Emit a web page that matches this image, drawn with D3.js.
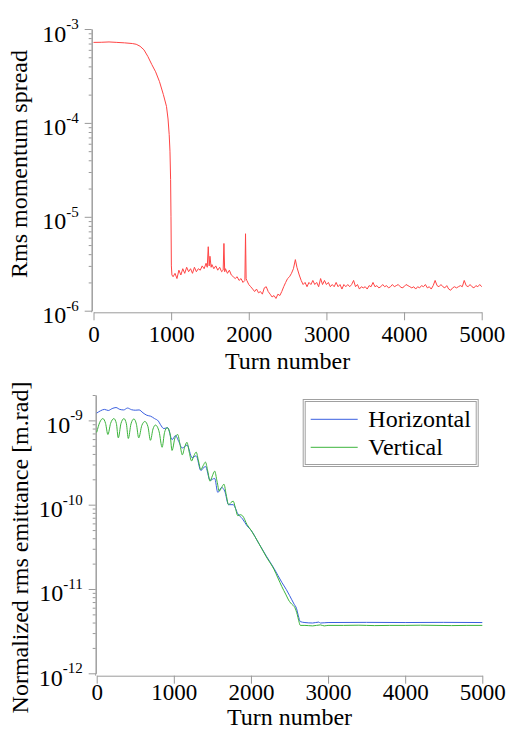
<!DOCTYPE html>
<html>
<head>
<meta charset="utf-8">
<script src="https://cdn.jsdelivr.net/npm/d3@7"></script>
<style>
  body { margin: 0; background: #fff; }
  svg { display: block; }
  text { font-family: "Liberation Serif", "Times New Roman", serif; fill: #000; }
</style>
</head>
<body>
<div id="chart"></div>
<script>
// turn numbers shared tick labels
var turnTicks = [0, 1000, 2000, 3000, 4000, 5000];

// top panel: rms momentum spread, values in units of 1e-6
var spreadTurns = [0, 100, 200, 300, 400, 500, 550, 600, 650, 700, 750, 800, 850, 900, 940, 960, 975, 985, 993, 998, 1003,
  1010, 1025, 1050, 1075, 1100, 1125, 1150, 1175, 1200, 1225, 1250, 1275, 1300, 1325, 1350, 1375, 1400, 1425, 1450, 1465,
  1478, 1490, 1500, 1515, 1525, 1550, 1575, 1600, 1625, 1650, 1670, 1680, 1690, 1700, 1725, 1750, 1775, 1800, 1825, 1850,
  1875, 1900, 1925, 1950, 1958, 1966, 1975, 2000, 2025, 2050, 2075, 2100, 2125, 2150, 2175, 2200, 2225, 2250, 2275, 2300,
  2325, 2350, 2375, 2400, 2425, 2450, 2475, 2500, 2525, 2550, 2575, 2600, 2620, 2650, 2675, 2700, 2725, 2750, 2775, 2800,
  2825, 2850, 2875, 2900, 2925, 2950, 2975, 3000, 3025, 3050, 3075, 3100, 3125, 3150, 3175, 3200, 3225, 3250, 3275, 3300,
  3325, 3350, 3375, 3400, 3425, 3450, 3475, 3500, 3525, 3550, 3575, 3600, 3625, 3650, 3675, 3700, 3725, 3750, 3775, 3800,
  3825, 3850, 3875, 3900, 3925, 3950, 3975, 4000, 4025, 4050, 4075, 4100, 4125, 4150, 4175, 4200, 4225, 4250, 4275, 4300,
  4325, 4350, 4375, 4400, 4425, 4450, 4475, 4500, 4525, 4550, 4575, 4600, 4625, 4650, 4675, 4700, 4725, 4750, 4775, 4800,
  4825, 4850, 4875, 4900, 4925, 4950, 4975, 5000];
var spreadValues = [720, 722, 728, 720, 712, 700, 688, 655, 600, 510, 420, 350, 275, 200, 150, 110, 75, 50, 25, 10, 3,
  2.4, 2.3, 2.5, 2.2, 2.7, 2.4, 2.8, 2.5, 2.9, 2.6, 2.8, 2.5, 2.9, 2.6, 2.8, 2.7, 3.0, 2.8, 3.2, 2.9,
  4.8, 3.0, 3.8, 2.9, 3.1, 2.8, 3.0, 2.7, 2.9, 2.6, 2.7, 5.2, 2.6, 2.8, 2.5, 2.7, 2.4, 2.3, 2.2, 2.3,
  2.1, 2.2, 2.0, 2.1, 6.6, 2.2, 2.1, 1.9, 1.8, 1.7, 1.6, 1.7, 1.55, 1.6, 1.5, 1.75, 1.8, 1.6, 1.5, 1.4,
  1.45, 1.35, 1.5, 1.45, 1.6, 1.8, 2.0, 2.2, 2.3, 2.5, 2.8, 3.5, 2.9, 2.4, 2.1, 1.9, 2.0, 1.8, 2.0, 1.9,
  2.1, 1.9, 2.0, 1.8, 2.2, 1.9, 2.1, 1.9, 2.0, 1.8, 1.9, 1.8, 2.0, 1.8, 1.9, 1.7, 1.9, 1.8, 1.9, 1.8,
  1.9, 2.1, 1.8, 1.9, 1.7, 1.8, 1.75, 1.8, 1.7, 1.85, 1.8, 2.0, 1.8, 1.85, 1.75, 1.8, 1.9, 1.8, 1.85, 1.75,
  1.8, 1.9, 1.8, 1.85, 1.9, 1.8, 1.75, 1.8, 1.9, 1.85, 1.8, 1.75, 1.8, 1.7, 1.8, 1.75, 1.85, 1.8, 1.9, 1.75,
  1.8, 1.7, 1.85, 2.1, 1.85, 1.8, 1.9, 1.8, 1.75, 1.85, 1.7, 1.65, 1.75, 1.8, 1.75, 1.8, 1.85, 1.8, 2.1, 1.85,
  1.8, 1.9, 1.8, 1.75, 1.85, 1.8, 1.9, 1.8];
var spreadUnit = 1e-6;
var spreadDecades = [1e-6, 1e-5, 1e-4, 1e-3];
var spreadExps = ["-6", "-5", "-4", "-3"];

// bottom panel: normalized emittance, values in units of 1e-12 m.rad
var horTurns = [0, 50, 100, 150, 200, 250, 300, 350, 400, 450, 500, 550, 600, 650, 700, 750, 800, 827, 870, 920, 978,
  1021, 1065, 1108, 1172, 1237, 1290, 1350, 1410, 1470, 1530, 1570, 1620, 1660, 1710, 1770, 1830, 1890, 1950, 2000,
  2100, 2200, 2300, 2400, 2460, 2500, 2560, 2590, 2615, 2640, 2700, 2800, 2880, 2900, 3000, 3500, 4000, 4500, 5000];
var horValues = [1220, 1300, 1350, 1310, 1380, 1420, 1350, 1330, 1400, 1340, 1320, 1330, 1230, 1150, 1120, 1050, 980, 890, 800, 820, 590,
  660, 560, 470, 510, 360, 380, 255, 285, 195, 205, 140, 160, 145, 100, 100, 78, 68, 56, 50,
  35, 24.5, 17.5, 12, 9.8, 8.4, 6.6, 5.9, 4.8, 4.1, 4.0, 3.95, 4.05, 3.95, 4.0, 4.02, 4.0, 4.02, 4.0];
var verTurns = [0, 40, 80, 115, 145, 180, 223, 255, 280, 315, 353, 385, 410, 445, 482, 515, 545, 585, 625, 665, 697,
  730, 762, 810, 848, 880, 913, 950, 977, 1015, 1050, 1080, 1110, 1140, 1170, 1200, 1230, 1260, 1290, 1320, 1350,
  1380, 1410, 1440, 1470, 1500, 1530, 1560, 1590, 1620, 1650, 1680, 1710, 1740, 1770, 1800, 1830, 1860, 1890, 1950,
  2000, 2100, 2200, 2300, 2350, 2400, 2450, 2500, 2530, 2570, 2600, 2620, 2640, 2700, 2800, 2900, 2950, 3000, 3200,
  3400, 3600, 3800, 4000, 4200, 4400, 4600, 4800, 5000];
var verValues = [720, 950, 1050, 920, 680, 920, 1050, 920, 620, 920, 1050, 910, 610, 910, 1040, 900, 620, 870, 970, 840, 580,
  790, 880, 730, 480, 720, 820, 700, 440, 620, 680, 520, 390, 480, 550, 420, 330, 380, 420, 330, 260,
  290, 320, 250, 190, 220, 250, 190, 145, 160, 175, 130, 100, 106, 110, 90, 74, 76, 74, 58,
  50, 35, 24, 17, 13.5, 10.7, 8.7, 7.1, 6.6, 6.0, 5.0, 4.2, 3.7, 3.7, 3.65, 3.75, 3.65, 3.7, 3.7,
  3.72, 3.68, 3.7, 3.7, 3.72, 3.7, 3.68, 3.7, 3.7];
var emitUnit = 1e-12;
var emitDecades = [1e-12, 1e-11, 1e-10, 1e-9];
var emitExps = ["-12", "-11", "-10", "-9"];
var legendNames = ["Horizontal", "Vertical"];

var W = 509, H = 730;
var axisColor = "#9a9a9a";
var svg = d3.select("#chart").append("svg").attr("width", W).attr("height", H);

function minorTicks(lo, hi) {
  var out = [];
  for (var d = lo; d < hi * 1.0001; d *= 10) {
    for (var k = 2; k <= 9; k++) {
      if (d * k <= hi * 1.0001) out.push(d * k);
    }
  }
  return out;
}

function drawPanel(p) {
  var g = svg.append("g");
  var x = d3.scaleLinear().domain([0, 5000]).range([p.x0, p.x1]);
  var y = d3.scaleLog().domain([p.yMin, p.yMax]).range([p.yBottom, p.yTop]);

  // y axis: minor then major ticks
  var ya = g.append("g").attr("transform", "translate(" + p.axisX + ",0)");
  ya.call(d3.axisLeft(y).tickValues(minorTicks(p.yMin, p.yMax)).tickSize(3).tickSizeOuter(0).tickFormat(""));
  ya.append("g").call(d3.axisLeft(y).tickValues(p.decades).tickSize(7).tickSizeOuter(0).tickFormat(""));
  ya.selectAll("path.domain").attr("stroke", axisColor);
  ya.selectAll(".tick line").attr("stroke", axisColor);
  // extend axis line down to the x axis
  ya.append("line").attr("x1", 0).attr("x2", 0).attr("y1", p.yBottom).attr("y2", p.axisY).attr("stroke", axisColor);

  var lab = g.append("g").selectAll("text").data(p.decades).enter().append("text")
    .attr("x", p.axisX - 13)
    .attr("y", function (d) { return y(d) + 12.5; })
    .attr("text-anchor", "end")
    .style("font-size", "24px");
  lab.append("tspan").text("10");
  lab.append("tspan").attr("dy", -12.5).style("font-size", "15px")
    .text(function (d, i) { return p.exps[i]; });

  // x axis
  var xa = g.append("g").attr("transform", "translate(0," + p.axisY + ")")
    .call(d3.axisBottom(x).tickValues(turnTicks).tickSize(8).tickSizeOuter(0).tickFormat(d3.format("d")));
  xa.select("path.domain").attr("stroke", axisColor);
  xa.selectAll(".tick line").attr("stroke", axisColor);
  xa.selectAll(".tick text").attr("y", p.xLabelY).attr("dy", 0)
    .attr("fill", "#000").style("font-size", "23px");

  g.append("text").attr("x", (p.x0 + p.x1) / 2).attr("y", p.xTitleY)
    .attr("text-anchor", "middle").style("font-size", "24px").text("Turn number");
  g.append("text")
    .attr("transform", "translate(" + p.yTitleX + "," + p.yTitleY + ") rotate(-90)")
    .attr("text-anchor", "middle").style("font-size", "24px").text(p.yTitle);

  p.series.forEach(function (s) {
    var pts = s.turns.map(function (t, i) { return [t, s.values[i] * p.unit]; });
    g.append("path").datum(pts)
      .attr("fill", "none").attr("stroke", s.color).attr("stroke-width", 1)
      .attr("d", d3.line().curve(s.curve)
        .x(function (d) { return x(d[0]); })
        .y(function (d) { return y(d[1]); }));
  });
  return g;
}

drawPanel({
  x0: 93.5, x1: 481.7, axisX: 91.7, axisY: 312.3,
  yMin: 1e-6, yMax: 1e-3, yBottom: 310.7, yTop: 29,
  decades: spreadDecades, exps: spreadExps, unit: spreadUnit,
  xLabelY: 30.2, xTitleY: 368.5,
  yTitle: "Rms momentum spread", yTitleX: 26.7, yTitleY: 164,
  series: [{ turns: spreadTurns, values: spreadValues, color: "#ff4444", curve: d3.curveLinear }]
});

drawPanel({
  x0: 96.7, x1: 482.3, axisX: 95.7, axisY: 675.7,
  yMin: 1e-12, yMax: 2e-9, yBottom: 673.3, yTop: 395,
  decades: emitDecades, exps: emitExps, unit: emitUnit,
  xLabelY: 24, xTitleY: 725,
  yTitle: "Normalized rms emittance [m.rad]", yTitleX: 28, yTitleY: 547.5,
  series: [
    { turns: horTurns, values: horValues, color: "#3a5fe0", curve: d3.curveMonotoneX },
    { turns: verTurns, values: verValues, color: "#3cb43c", curve: d3.curveMonotoneX }
  ]
});

// legend with double frame
var leg = svg.append("g").attr("transform", "translate(302.7,399)");
leg.append("rect").attr("x", 0.5).attr("y", 0.5).attr("width", 175).attr("height", 67)
  .attr("fill", "#fff").attr("stroke", "#a0a0a0");
leg.append("rect").attr("x", 2.5).attr("y", 2.5).attr("width", 171).attr("height", 63)
  .attr("fill", "none").attr("stroke", "#a0a0a0");
var legColors = ["#3a5fe0", "#3cb43c"];
var item = leg.selectAll("g.item").data(legendNames).enter().append("g").attr("class", "item")
  .attr("transform", function (d, i) { return "translate(0," + (20.3 + i * 28) + ")"; });
item.append("line").attr("x1", 8).attr("x2", 55).attr("y1", 0).attr("y2", 0)
  .attr("stroke", function (d, i) { return legColors[i]; }).attr("stroke-width", 1);
item.append("text").attr("x", 65.6).attr("y", 7.4).style("font-size", "24px").text(function (d) { return d; });
</script>
</body>
</html>
